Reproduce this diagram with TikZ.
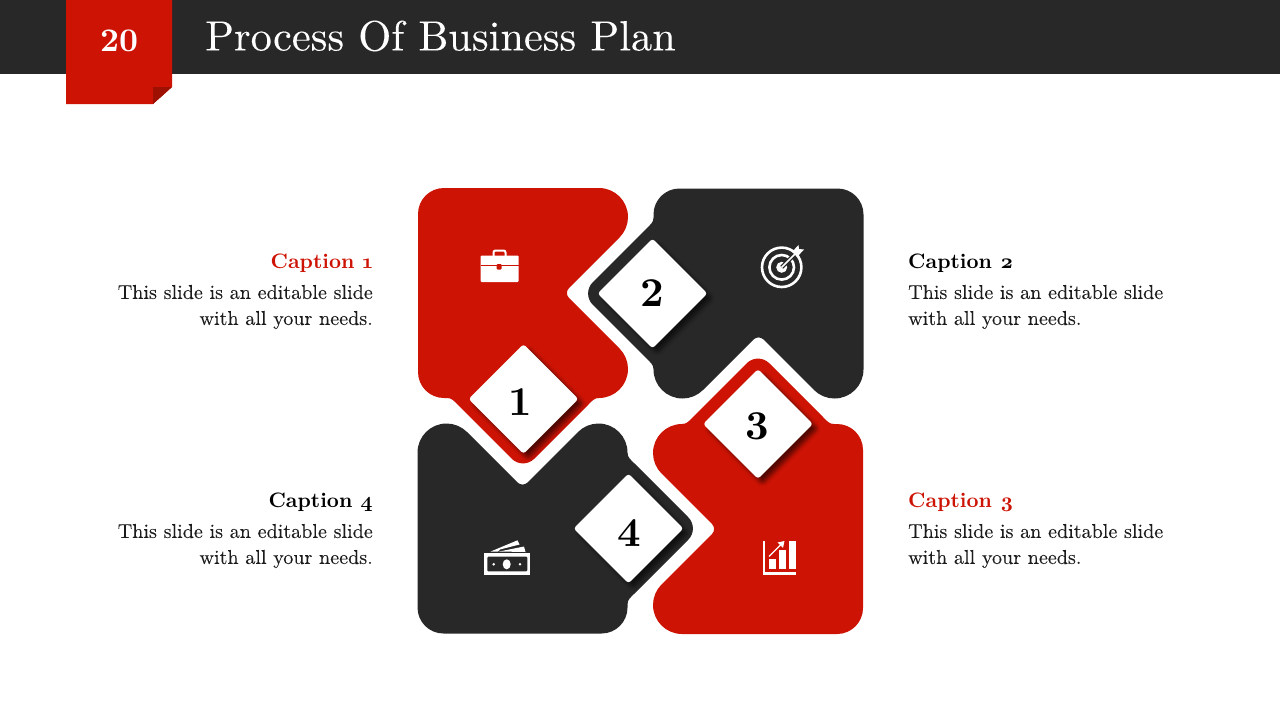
\documentclass[tikz,border=0pt]{standalone}
\usepackage{fontspec}
\usepackage{tikz}
\usetikzlibrary{shapes.geometric,shadows.blur}
\newfontfamily\planfont[FakeBold=0.08]{lmroman10-regular.otf}
\newfontfamily\capfont[Numbers=OldStyle]{lmroman10-bold.otf}
\newfontfamily\digitfont{lmroman10-bold.otf}
\definecolor{planred}{HTML}{CD1304}
\definecolor{plandark}{HTML}{282828}
\definecolor{foldred}{HTML}{9E1002}
\definecolor{bodygray}{HTML}{1C1C1C}
\tikzset{
  numdiamond/.style={shape=diamond, aspect=1, fill=white, inner sep=0pt, minimum width=110pt, minimum height=110pt, rounded corners=3pt,
    blur shadow={shadow xshift=4.5pt, shadow yshift=-4.5pt, shadow opacity=60, shadow blur radius=4pt, shadow blur steps=8}},
  numtext/.style={inner sep=0pt, font=\fontsize{41}{41}\digitfont},
  captext/.style={inner sep=0pt, font=\fontsize{20.9}{26}\capfont},
  bodytext/.style={inner sep=0pt, text=bodygray, font=\fontsize{20.1}{26}\planfont}
}
\begin{document}
\begin{tikzpicture}[x=1pt,y=-1pt]
  \useasboundingbox (0,0) rectangle (1280,720);
  % barra do titulo
  \fill[plandark] (0,0) rectangle (1280,74);
  \fill[planred] (66,0) -- (172,0) -- (172,87) -- (153,104) -- (66,104) -- cycle;
  \fill[foldred] (153,87) -- (172,87) -- (153,104) -- cycle;
  \node[inner sep=0pt, text=white, font=\fontsize{33}{33}\digitfont] (pagenum) at (119,41) {20};
  \node[inner sep=0pt, text=white, anchor=west, font=\fontsize{42.4}{46}\planfont] (title) at (205,36) {Process Of Business Plan};
  % as quatro pecas, a mesma forma girada
  \foreach \ang/\col in {0/planred,-90/plandark,-180/planred,-270/plandark}{
    \fill[\col, rotate around={\ang:(640.5,411)}]
      (418,214) .. controls (418,199.6) and (429.6,188) .. (444,188)
      -- (599,188) .. controls (615,188) and (628,201) .. (628,217)
      .. controls (628,224.7) and (624.9,232.1) .. (619.5,237.5)
      -- (569,288) .. controls (566.25,290.75) and (566.25,295.25) .. (569,298)
      -- (619.5,348.5) .. controls (624.9,353.9) and (628,361.3) .. (628,369)
      .. controls (628,385) and (615,398) .. (599,398)
      .. controls (594,398) and (592,401) .. (588,405)
      -- (534.3,458.7) .. controls (528,465) and (518,465) .. (511.7,458.7)
      -- (458,405) .. controls (454,401) and (452,398) .. (447,398)
      -- (444,398) .. controls (429.6,398) and (418,386.4) .. (418,372) -- cycle;
  }
  % losangos com os numeros
  \node[numdiamond] (dia1) at (523.5,399) {};
  \node[numdiamond] (dia2) at (652.5,293.5) {};
  \node[numdiamond] (dia3) at (758,424) {};
  \node[numdiamond] (dia4) at (628.5,528.5) {};
  \node[numtext] (num1) at (520.5,402) {1};
  \node[numtext] (num2) at (652,293) {2};
  \node[numtext] (num3) at (757.5,426) {3};
  \node[numtext] (num4) at (629,533) {4};
  % pasta
  \fill[white, rounded corners=1pt] (480.5,255.5) rectangle (518.5,282);
  \draw[white, line width=2pt, rounded corners=2pt] (493.5,256) -- (493.5,250.5) -- (505.5,250.5) -- (505.5,256);
  \fill[planred] (480.5,264.8) rectangle (518.5,266);
  \fill[planred, rounded corners=1pt] (496.7,264) rectangle (501.5,269.5);
  % alvo
  \draw[white, line width=2.6pt] (781.7,267.3) circle (19.7);
  \draw[white, line width=2.6pt] (781.7,267.3) circle (12.3);
  \fill[white] (781.7,267.3) circle (5.5);
  \draw[plandark, line width=4pt] (781.7,267.3) -- (796,253);
  \draw[white, line width=1.6pt] (781.7,267.3) -- (796,253);
  \fill[white] (792,252) -- (798.5,245) -- (799,249) -- (804,249.5) -- (797,257) -- cycle;
  % notas de dinheiro
  \fill[white] (484,553.3) rectangle (530,574.7);
  \fill[plandark, rounded corners=1pt] (487.3,556.7) rectangle (527.3,571.3);
  \fill[white] (506.7,564.3) ellipse (4 and 5);
  \fill[white] (493.7,564.3) circle (1.4);
  \fill[white] (520,564.3) circle (1.4);
  \fill[white] (490.7,551.5) -- (517.5,540.3) -- (519.5,544.5) -- (500,549.5) -- (498,551.5) -- cycle;
  \fill[white] (499,551.5) -- (524,546.5) -- (525.5,552) -- cycle;
  % grafico
  \fill[white] (762.7,541) rectangle (765,574.7);
  \fill[white] (762.7,571.7) rectangle (796,574.7);
  \fill[white] (768.7,559.3) rectangle (775.7,569.3);
  \fill[white] (778.7,550) rectangle (786,569.3);
  \fill[white] (788.7,541.3) rectangle (796,569.3);
  \draw[white, line width=1.3pt] (769,556.5) -- (781,544.5);
  \fill[white] (784.5,541) -- (783,548) -- (777.5,542.5) -- cycle;
  % legendas
  \node[captext, anchor=base east, text=planred] (cap1) at (373,268) {Caption 1};
  \node[bodytext, anchor=east, align=right] (txt1) at (373,307) {This slide is an editable slide\\with all your needs.};
  \node[captext, anchor=base west] (cap2) at (908,268) {Caption 2};
  \node[bodytext, anchor=west, align=left] (txt2) at (908,307) {This slide is an editable slide\\with all your needs.};
  \node[captext, anchor=base west, text=planred] (cap3) at (908,507) {Caption 3};
  \node[bodytext, anchor=west, align=left] (txt3) at (908,546) {This slide is an editable slide\\with all your needs.};
  \node[captext, anchor=base east] (cap4) at (373,507) {Caption 4};
  \node[bodytext, anchor=east, align=right] (txt4) at (373,546) {This slide is an editable slide\\with all your needs.};
\end{tikzpicture}
\end{document}
